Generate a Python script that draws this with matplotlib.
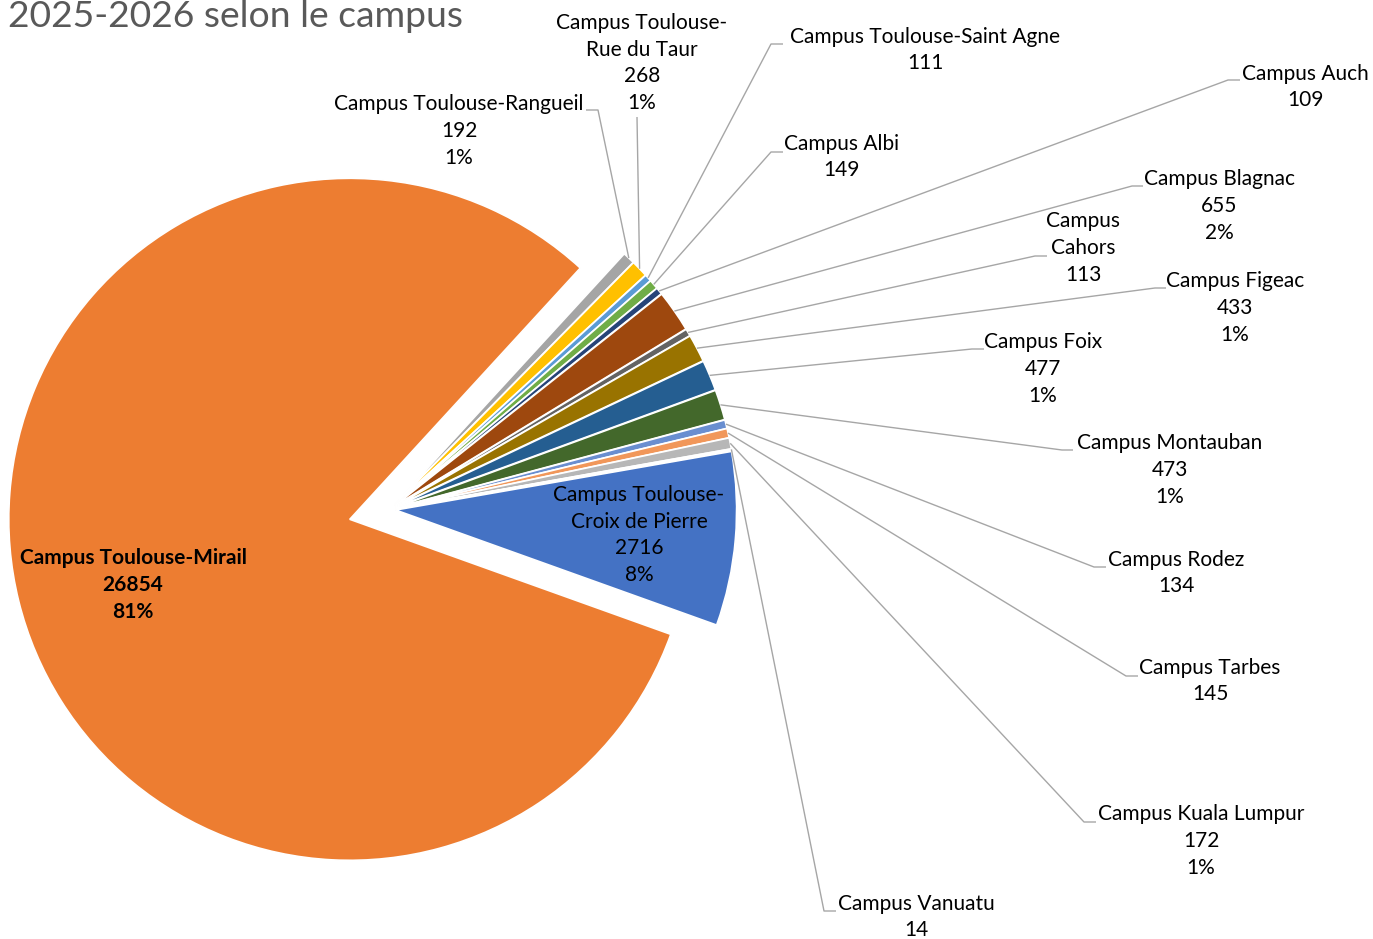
# Librairies externes
import matplotlib
matplotlib.use('Agg')
import matplotlib.pyplot as plt
import numpy as np

# Données : effectifs par campus (ordre des secteurs, sens horaire)
campus = [
    'Campus Toulouse-\nCroix de Pierre',
    'Campus Toulouse-Mirail',
    'Campus Toulouse-Rangueil',
    'Campus Toulouse-\nRue du Taur',
    'Campus Toulouse-Saint Agne',
    'Campus Albi',
    'Campus Auch',
    'Campus Blagnac',
    'Campus\nCahors',
    'Campus Figeac',
    'Campus Foix',
    'Campus Montauban',
    'Campus Rodez',
    'Campus Tarbes',
    'Campus Kuala Lumpur',
    'Campus Vanuatu',
]
effectifs = [2716, 26854, 192, 268, 111, 149, 109, 655, 113, 433, 477, 473,
             134, 145, 172, 14]
couleurs = ['#4472C4', '#ED7D31', '#A5A5A5', '#FFC000', '#5B9BD5', '#70AD47',
            '#264478', '#9E480E', '#636363', '#997300', '#255E91', '#43682B',
            '#698ED0', '#F1975A', '#B7B7B7', '#FFCD33']
titre = '2025-2026 selon le campus'

# Mise en page (pixels de l'image 1373x939)
largeur_px, hauteur_px = 1373, 939
cx, cy, r_px = 389.5, 509.5, 341.0
eclatement = [0.018, 0.12] + [0.018] * 14

# Position du centre des étiquettes (pixels)
etiq_x = [639, 133, 459, 642, 925, 841, 1305, 1219, 1083, 1235, 1043, 1170,
          1176, 1210, 1201, 916]
etiq_y = [535, 585, 131, 63, 50, 157, 87, 206, 248, 308, 369, 470, 573, 681,
          841, 917]
# Petit trait horizontal des lignes de rappel : (x côté ligne, x côté texte, y)
amorces = [None, None, (598, 586, 110), (637, 637, 117), (771, 783, 44),
           (771, 783, 152), (1228, 1240, 80), (1132, 1143, 186),
           (1035, 1047, 256), (1155, 1166, 288), (972, 984, 349),
           (1062, 1073, 450), (1094, 1106, 567), (1126, 1138, 676),
           (1084, 1096, 822), (824, 836, 911)]


def px_vers_donnees(x, y):
    return (x - cx) / r_px, (cy - y) / r_px


plt.rcParams['font.family'] = ['Lato', 'DejaVu Sans']

fig = plt.figure(figsize=(largeur_px / 100, hauteur_px / 100), dpi=100)
ax = fig.add_axes([0, 0, 1, 1])

secteurs, _ = ax.pie(effectifs, colors=couleurs, startangle=9.9,
                     counterclock=False, explode=eclatement, radius=1,
                     wedgeprops=dict(edgecolor='white', linewidth=1.2))

ax.set_xlim(-cx / r_px, (largeur_px - cx) / r_px)
ax.set_ylim((cy - hauteur_px) / r_px, cy / r_px)
ax.set_aspect('equal')
ax.axis(False)

total = sum(effectifs)
for i, w in enumerate(secteurs):
    pct = round(100 * effectifs[i] / total)
    texte = f'{campus[i]}\n{effectifs[i]}'
    if pct >= 1:
        texte += f'\n{pct}%'
    tx, ty = px_vers_donnees(etiq_x[i], etiq_y[i])
    gras = 'bold' if i == 1 else 'normal'
    ax.text(tx, ty, texte, ha='center', va='center', fontsize=15,
            fontweight=gras, color='black', linespacing=1.42)

    if amorces[i] is None:
        continue
    # Ligne de rappel depuis le milieu de l'arc
    th = np.radians((w.theta1 + w.theta2) / 2)
    ax_ = w.center[0] + w.r * np.cos(th)
    ay_ = w.center[1] + w.r * np.sin(th)
    x1, x2, ya = amorces[i]
    bx, by = px_vers_donnees(x1, ya)
    ex, ey = px_vers_donnees(x2, ya)
    ax.plot([ax_, bx, ex], [ay_, by, ey], color='#A6A6A6', lw=1.0,
            solid_capstyle='butt')

# Titre (en haut à gauche, comme dans l'original)
fig.text(8 / largeur_px, 1 - 27 / hauteur_px, titre, ha='left',
         va='baseline', fontsize=26.8, color='#595959')

fig.savefig('out.png', dpi=100)
